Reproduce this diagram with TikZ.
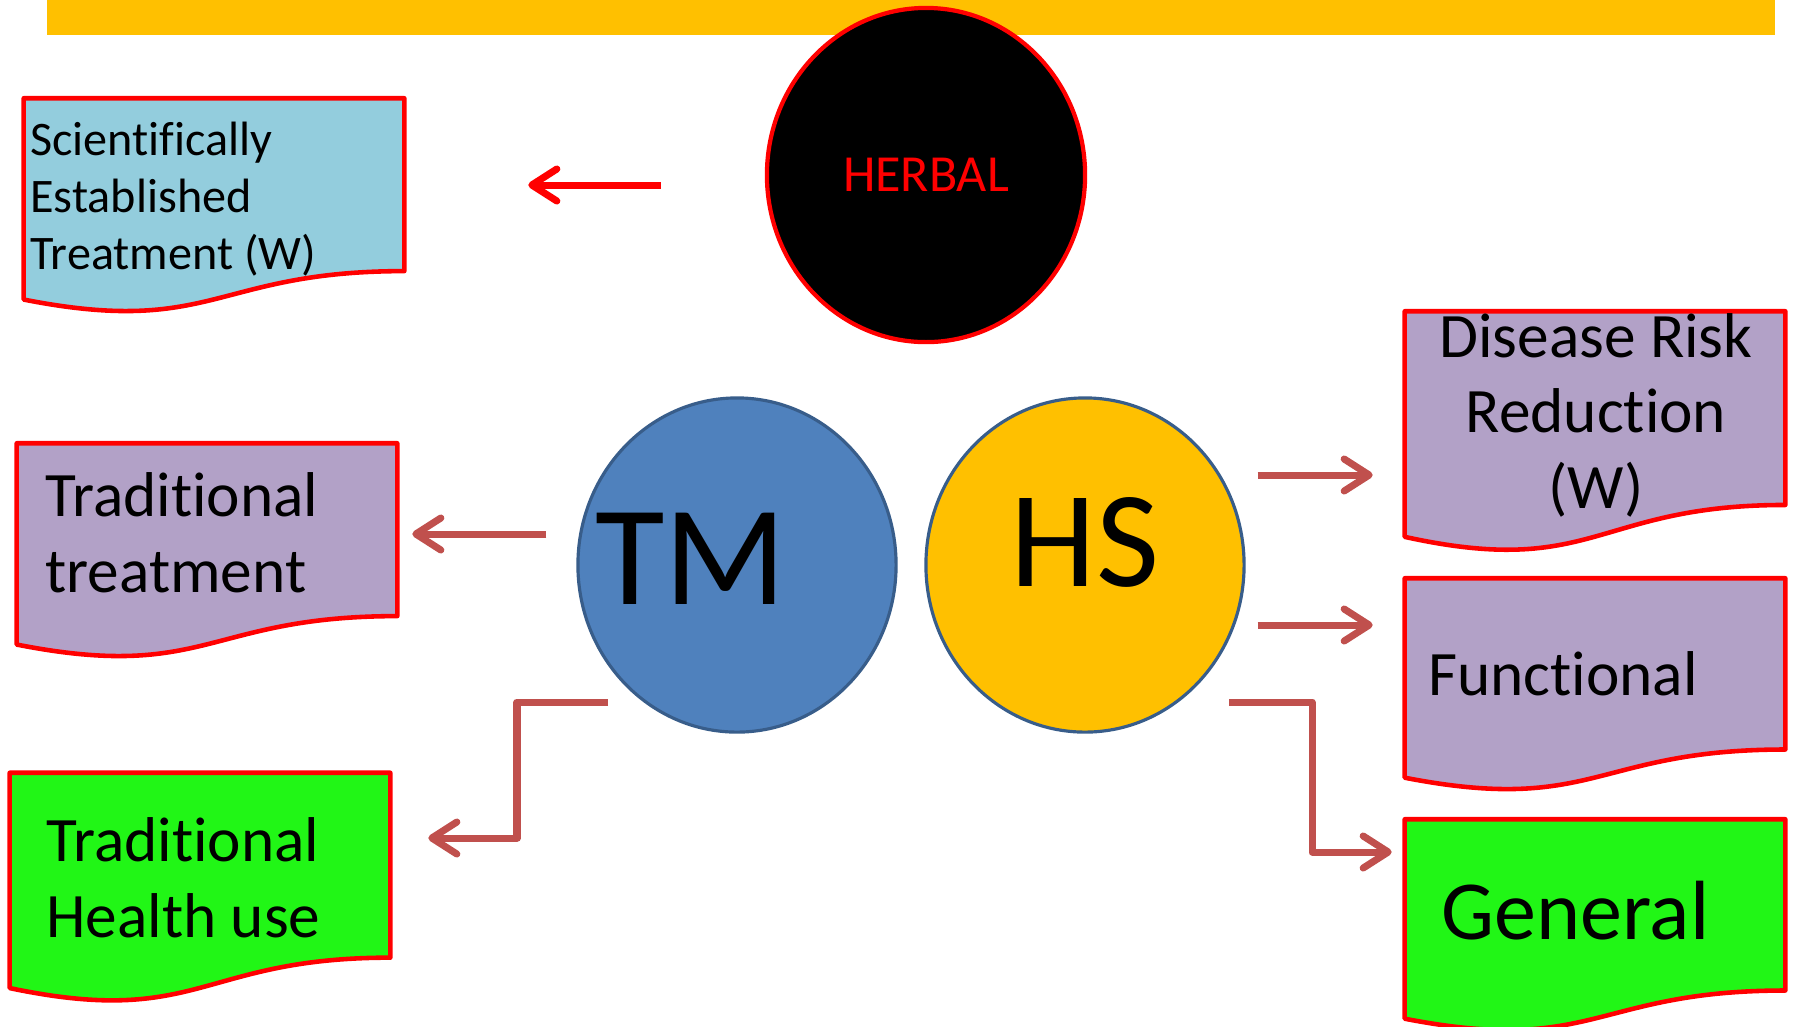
\documentclass[tikz,border=0pt]{standalone}
\usepackage{fontspec}
\setmainfont{Carlito}[Ligatures={NoCommon,NoContextual}, Contextuals=NoAlternate]
\usetikzlibrary{shapes.geometric,arrows.meta,positioning,calc}

\definecolor{banner}{RGB}{255,192,0}
\definecolor{sciblue}{RGB}{147,205,221}
\definecolor{lilac}{RGB}{178,161,199}
\definecolor{leaf}{RGB}{33,246,22}
\definecolor{tmblue}{RGB}{79,129,189}
\definecolor{rimblue}{RGB}{56,93,138}
\definecolor{linkred}{RGB}{192,80,77}

\begin{document}
\begin{tikzpicture}[x=0.01cm, y=-0.01cm, line join=round]
    \tikzstyle{disc}=[ellipse, minimum width=3.18cm, minimum height=3.34cm, inner sep=0pt]
    \tikzstyle{herbal disc}=[disc, fill=black, draw=red, line width=1.2pt, text=red, font=\fontsize{14.8}{18}\selectfont]
    \tikzstyle{tm disc}=[disc, fill=tmblue, draw=rimblue, line width=0.9pt]
    \tikzstyle{hs disc}=[disc, fill=banner, draw=rimblue, line width=0.9pt]
    \tikzstyle{big label}=[inner sep=0pt, font=\fontsize{39}{47}\selectfont]
    \tikzstyle{doc}=[rectangle, minimum width=3.79cm, inner sep=0pt]
    \tikzstyle{doc outline}=[draw=red, line width=1.3pt]
    \tikzstyle{doc text}=[inner sep=0pt, anchor=west, align=left, font=\fontsize{18}{21.5}\selectfont]
    \tikzstyle{link}=[-{Straight Barb[length=0.25cm, width=0.32cm, round]}, line width=2pt, draw=linkred]
    \tikzstyle{hot link}=[link, draw=red]

    \useasboundingbox (0,0) rectangle (1794,1026);

    % Banner along the top
    \fill[banner] (47,0) rectangle (1775,35);

    % Draw the three discs
    \node[herbal disc] (herbal) at (926,175) {HERBAL};
    \node[tm disc] (tm) at (737,565) {};
    \node[hs disc] (hs) at (1085,565) {};
    \node[big label, font=\fontsize{40.5}{48}\selectfont] (tm label) at (691,559) {TM};
    \node[big label] (hs label) at (1085,542) {HS};

    % Draw the document boxes (name / centre / height)
    \foreach \name/\x/\y/\h in {sci/214/206/2.14, ttr/207/551/2.14, thu/200/888/2.29,
                                drr/1595/432/2.40, fun/1595/685/2.12, gen/1595/926/2.12}
        \node[doc, minimum height=\h cm] (\name) at (\x,\y) {};

    % Wavy bottom edge, as in a flowchart document
    \foreach \name/\colour in {sci/sciblue, ttr/lilac, thu/leaf, drr/lilac, fun/lilac, gen/leaf}
        \draw[doc outline, fill=\colour] (\name.north west) -- (\name.north east)
            -- ($(\name.north east)!0.802!(\name.south east)$)
            .. controls ($(\name.north)!0.802!(\name.south)$) and ($(\name.north)!1.1075!(\name.south)$)
            .. ($(\name.north west)!0.934!(\name.south west)$) -- cycle;

    % Texts of the boxes
    \node[doc text, font=\fontsize{13.7}{16.2}\selectfont] (sci text) at ($(sci.west)+(6,-7)$) {Scientifically\\Established\\Treatment (W)};
    \node[doc text] (ttr text) at ($(ttr.west)+(28,-18)$) {Traditional\\treatment};
    \node[doc text] (thu text) at ($(thu.west)+(36,-10)$) {Traditional\\Health use};
    \node[doc text, anchor=center, align=center] (drr text) at ($(drr)+(1,-17)$) {Disease Risk\\Reduction\\(W)};
    \node[doc text] (fun text) at ($(fun.west)+(23,-11)$) {Functional};
    \node[doc text, font=\fontsize{23.9}{28}\selectfont] (gen text) at ($(gen.west)+(36,-15)$) {General};

    % Connect the discs with the boxes
    \draw[hot link] ($(herbal.west)+(-104,10)$) -- ($(sci.east)+(124,-21)$);
    \draw[link] ($(tm.west)+(-30,-31)$) -- ($(ttr.east)+(15,-17)$);
    \draw[link] ($(tm)+(-129,137)$) -- ++(-91,0) |- ($(thu.east)+(38,-50)$);
    \draw[link] ($(hs.east)+(12,-90)$) -- ($(drr.west)+(-32,43)$);
    \draw[link] ($(hs.east)+(12,60)$) -- ($(fun.west)+(-32,-60)$);
    \draw[link] ($(hs)+(144,137)$) -- ++(83,0) |- ($(gen.west)+(-13,-74)$);
\end{tikzpicture}
\end{document}
